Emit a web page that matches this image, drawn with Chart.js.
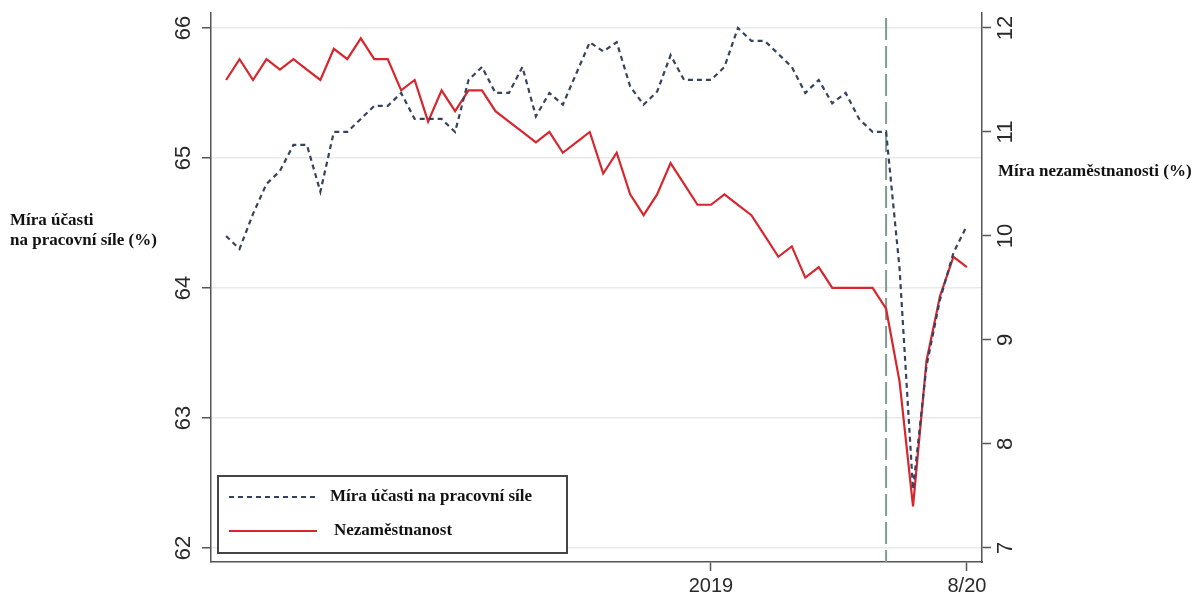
<!DOCTYPE html>
<html>
<head>
<meta charset="utf-8">
<script src="https://cdn.jsdelivr.net/npm/chart.js@4.4.1/dist/chart.umd.min.js"></script>
<style>
  html, body { margin: 0; padding: 0; background: #ffffff; }
  #wrap { width: 1198px; height: 595px; }
</style>
</head>
<body>
<div id="wrap"><canvas id="c" width="1198" height="595"></canvas></div>
<script>
// Monthly series, January 2016 to August 2020
const participation = [
  64.4, 64.3, 64.57, 64.8, 64.9, 65.1, 65.1, 64.74, 65.2, 65.2, 65.3, 65.4,
  65.4, 65.5, 65.3, 65.3, 65.3, 65.2, 65.6, 65.7, 65.5, 65.5, 65.7, 65.32,
  65.5, 65.41, 65.65, 65.89, 65.82, 65.89, 65.55, 65.41, 65.51, 65.79, 65.6, 65.6,
  65.6, 65.7, 66.0, 65.9, 65.9, 65.8, 65.7, 65.5, 65.6, 65.42, 65.5, 65.3,
  65.2, 65.2, 64.15, 62.45, 63.4, 63.91, 64.27, 64.48
];
const unemployment = [
  11.5, 11.7, 11.5, 11.7, 11.6, 11.7, 11.6, 11.5, 11.8, 11.7, 11.9, 11.7,
  11.7, 11.4, 11.5, 11.1, 11.4, 11.2, 11.4, 11.4, 11.2, 11.1, 11.0, 10.9,
  11.0, 10.8, 10.9, 11.0, 10.6, 10.8, 10.4, 10.2, 10.4, 10.7, 10.5, 10.3,
  10.3, 10.4, 10.3, 10.2, 10.0, 9.8, 9.9, 9.6, 9.7, 9.5, 9.5, 9.5,
  9.5, 9.3, 8.6, 7.4, 8.8, 9.42, 9.8, 9.7
];
const xTickValues = [36, 55];
const xTickLabels = ['2019', '8/20'];
const leftTicks = [62, 63, 64, 65, 66];
const rightTicks = [7, 8, 9, 10, 11, 12];
const markerIndex = 49;
const seriesNames = ['Míra účasti na pracovní síle', 'Nezaměstnanost'];
const leftTitle = ['Míra účasti', 'na pracovní síle (%)'];
const rightTitle = 'Míra nezaměstnanosti (%)';

const BLUE = '#37425e';
const RED = '#d7262e';
const AXIS = '#555555';
const TICK_FONT = '22px "Liberation Sans", Arial, sans-serif';
const TITLE_FONT = 'bold 17px "Liberation Serif", "Times New Roman", serif';

const toPoints = arr => arr.map((v, i) => ({ x: i, y: v }));

const decor = {
  id: 'decor',
  beforeDatasetsDraw(chart) {
    const { ctx, chartArea, scales } = chart;
    const x = scales.x.getPixelForValue(markerIndex);
    ctx.save();
    ctx.strokeStyle = '#7f9b91';
    ctx.lineWidth = 2;
    ctx.setLineDash([22, 6]);
    ctx.beginPath();
    ctx.moveTo(x, chartArea.top + 5);
    ctx.lineTo(x, chartArea.bottom);
    ctx.stroke();
    ctx.restore();
  },
  afterDraw(chart) {
    const { ctx, scales } = chart;
    ctx.save();
    // rotated tick labels on both value axes
    ctx.fillStyle = '#2a2a2a';
    ctx.font = TICK_FONT;
    ctx.textAlign = 'center';
    ctx.textBaseline = 'middle';
    const drawRotated = (scale, values, cx) => {
      values.forEach(v => {
        ctx.save();
        ctx.translate(cx, scale.getPixelForValue(v));
        ctx.rotate(-Math.PI / 2);
        ctx.fillText(String(v), 0, 0);
        ctx.restore();
      });
    };
    drawRotated(scales.yL, leftTicks, 184);
    drawRotated(scales.yR, rightTicks, 1006);

    // axis titles
    ctx.fillStyle = '#111111';
    ctx.font = TITLE_FONT;
    ctx.textAlign = 'left';
    ctx.fillText(leftTitle[0], 10, 221);
    ctx.fillText(leftTitle[1], 10, 241);
    ctx.fillText(rightTitle, 998, 172);

    // legend box
    const bx = 218, by = 476, bw = 349, bh = 77;
    ctx.fillStyle = '#ffffff';
    ctx.fillRect(bx, by, bw, bh);
    ctx.strokeStyle = '#444444';
    ctx.lineWidth = 2;
    ctx.strokeRect(bx, by, bw, bh);
    const rows = [497, 531];
    const textX = [330, 334];
    chart.data.datasets.forEach((ds, i) => {
      ctx.save();
      ctx.strokeStyle = ds.borderColor;
      ctx.lineWidth = 2;
      ctx.setLineDash(ds.borderDash || []);
      ctx.beginPath();
      ctx.moveTo(229, rows[i]);
      ctx.lineTo(317, rows[i]);
      ctx.stroke();
      ctx.restore();
      ctx.fillStyle = '#111111';
      ctx.font = TITLE_FONT;
      ctx.textBaseline = 'middle';
      ctx.fillText(ds.label, textX[i], rows[i]);
    });
    ctx.restore();
  }
};

new Chart(document.getElementById('c'), {
  type: 'line',
  data: {
    datasets: [
      {
        label: seriesNames[0],
        data: toPoints(participation),
        yAxisID: 'yL',
        borderColor: BLUE,
        borderWidth: 2.2,
        borderDash: [5, 4],
        pointRadius: 0,
        tension: 0,
        fill: false
      },
      {
        label: seriesNames[1],
        data: toPoints(unemployment),
        yAxisID: 'yR',
        borderColor: RED,
        borderWidth: 2.2,
        pointRadius: 0,
        tension: 0,
        fill: false
      }
    ]
  },
  options: {
    responsive: false,
    animation: false,
    devicePixelRatio: 1,
    layout: { padding: { top: 13, left: 0, right: 0, bottom: 0 } },
    plugins: { legend: { display: false }, tooltip: { enabled: false } },
    scales: {
      x: {
        type: 'linear',
        min: -1.12,
        max: 56.12,
        afterFit: s => { s.height = 33; },
        afterBuildTicks: s => { s.ticks = xTickValues.map(v => ({ value: v })); },
        ticks: {
          callback: (v, i) => xTickLabels[i],
          font: { family: '"Liberation Sans", Arial, sans-serif', size: 20 },
          color: '#2a2a2a',
          padding: 3,
          maxRotation: 0,
          autoSkip: false
        },
        grid: { drawOnChartArea: false, tickLength: 9, tickColor: AXIS, tickWidth: 1.5 },
        border: { color: AXIS, width: 1.5 }
      },
      yL: {
        type: 'linear',
        position: 'left',
        min: 61.892,
        max: 66.115,
        afterFit: s => { s.width = 211; },
        afterBuildTicks: s => { s.ticks = leftTicks.map(v => ({ value: v })); },
        ticks: { display: false },
        grid: { color: '#e9e9e9', lineWidth: 1.5, tickLength: 9, tickColor: AXIS, tickWidth: 1.5 },
        border: { color: AXIS, width: 1.5 }
      },
      yR: {
        type: 'linear',
        position: 'right',
        min: 6.865,
        max: 12.144,
        afterFit: s => { s.width = 216; },
        afterBuildTicks: s => { s.ticks = rightTicks.map(v => ({ value: v })); },
        ticks: { display: false },
        grid: { drawOnChartArea: false, tickLength: 9, tickColor: AXIS, tickWidth: 1.5 },
        border: { color: AXIS, width: 1.5 }
      }
    }
  },
  plugins: [decor]
});
</script>
</body>
</html>
